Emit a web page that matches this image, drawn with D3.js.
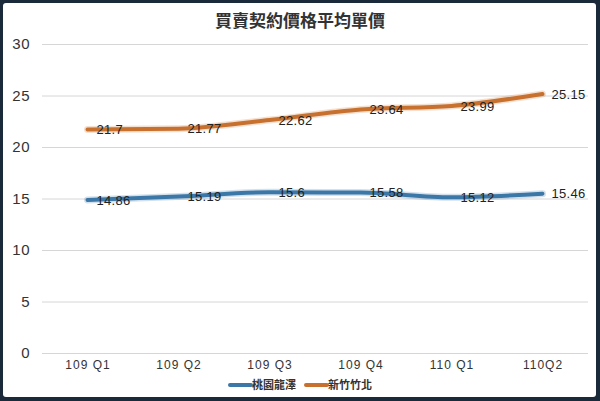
<!DOCTYPE html>
<html>
<head>
<meta charset="utf-8">
<script src="https://cdn.jsdelivr.net/npm/d3@7"></script>
<style>
  html, body { margin: 0; padding: 0; background: #1b2a3a; }
  svg { display: block; }
</style>
</head>
<body>
<div id="chart"></div>
<script>
const quarters = ["109 Q1", "109 Q2", "109 Q3", "109 Q4", "110 Q1", "110Q2"];
const taoyuan = [14.86, 15.19, 15.6, 15.58, 15.12, 15.46];
const hsinchu = [21.7, 21.77, 22.62, 23.64, 23.99, 25.15];
const yTicks = [0, 5, 10, 15, 20, 25, 30];

const seriesList = [
    { name: "桃園龍澤", values: taoyuan, color: "#3b77a7" },
    { name: "新竹竹北", values: hsinchu, color: "#c8702e" }
];

const W = 600, H = 401;
const margin = { top: 44, right: 12, bottom: 48, left: 42 };
const width = W - margin.left - margin.right;
const height = H - margin.top - margin.bottom;
const numFont = "'Liberation Sans', Arial, sans-serif";
const cjkFont = "'Noto Sans CJK TC', 'Noto Sans CJK SC', sans-serif";

const root = d3.select("#chart")
    .append("svg")
    .attr("width", W)
    .attr("height", H);

// frame
root.append("rect")
    .attr("x", 0).attr("y", 0)
    .attr("width", W).attr("height", H)
    .attr("fill", "#1b2a3a");
root.append("rect")
    .attr("x", 3).attr("y", 3)
    .attr("width", W - 7).attr("height", H - 7)
    .attr("rx", 3)
    .attr("fill", "#ffffff");

root.append("text")
    .attr("x", W / 2)
    .attr("y", 27)
    .attr("text-anchor", "middle")
    .style("font-family", cjkFont)
    .style("font-size", "17px")
    .style("font-weight", "bold")
    .attr("fill", "#333")
    .text("買賣契約價格平均單價");

const svg = root.append("g")
    .attr("transform", `translate(${margin.left},${margin.top})`);

const x = d3.scalePoint()
    .domain(quarters)
    .range([0, width])
    .padding(0.5);

const y = d3.scaleLinear()
    .domain([0, 30])
    .range([height, 0]);

// grid + y labels
const yAxis = svg.append("g")
    .call(d3.axisLeft(y).tickValues(yTicks).tickSize(-width).tickPadding(12));
yAxis.select(".domain").remove();
yAxis.selectAll(".tick line").attr("stroke", "#d6d6d6").attr("stroke-width", 1);
yAxis.selectAll(".tick text")
    .attr("fill", "#333")
    .style("font-family", numFont)
    .style("font-size", "15px")
    .style("letter-spacing", "0.5px");

const xAxis = svg.append("g")
    .attr("transform", `translate(0,${height})`)
    .call(d3.axisBottom(x).tickSize(0).tickPadding(7));
xAxis.select(".domain").remove();
xAxis.selectAll(".tick text")
    .attr("fill", "#333")
    .style("font-family", numFont)
    .style("font-size", "12px")
    .style("letter-spacing", "1px");

const line = d3.line()
    .x((d, i) => x(quarters[i]))
    .y(d => y(d))
    .curve(d3.curveMonotoneX);

seriesList.forEach(s => {
    svg.append("path")
        .datum(s.values)
        .attr("fill", "none")
        .attr("stroke", s.color)
        .attr("stroke-opacity", 0.22)
        .attr("stroke-width", 7)
        .attr("stroke-linecap", "round")
        .attr("d", line);
    svg.append("path")
        .datum(s.values)
        .attr("fill", "none")
        .attr("stroke", s.color)
        .attr("stroke-width", 4)
        .attr("stroke-linecap", "round")
        .attr("d", line);

    svg.selectAll(null)
        .data(s.values)
        .enter()
        .append("text")
        .attr("x", (d, i) => x(quarters[i]) + 9)
        .attr("y", d => y(d))
        .attr("dy", "0.36em")
        .attr("fill", "#222")
        .style("font-family", numFont)
        .style("font-size", "13px")
        .style("letter-spacing", "0.3px")
        .text(d => d);
});

// legend
const legend = root.append("g")
    .attr("transform", `translate(230,${H - 16})`);
seriesList.forEach((s, i) => {
    const g = legend.append("g").attr("transform", `translate(${i * 76},0)`);
    g.append("line")
        .attr("x1", 0).attr("x2", 21)
        .attr("y1", 0).attr("y2", 0)
        .attr("stroke", s.color)
        .attr("stroke-width", 4)
        .attr("stroke-linecap", "round");
    g.append("text")
        .attr("x", 22)
        .attr("y", 0)
        .attr("dy", "0.36em")
        .attr("fill", "#333")
        .style("font-family", cjkFont)
        .style("font-size", "11px")
        .style("font-weight", "bold")
        .text(s.name);
});
</script>
</body>
</html>
